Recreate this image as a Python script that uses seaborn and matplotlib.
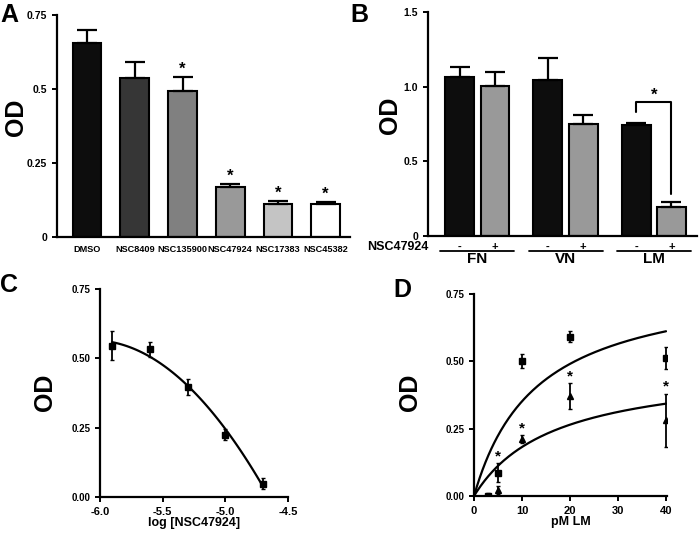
import numpy as np
import pandas as pd
import seaborn as sns
import matplotlib
matplotlib.use("Agg")
import matplotlib.pyplot as plt
import matplotlib.transforms as mtransforms

# panel A - compounds
a_names = ["DMSO", "NSC8409", "NSC135900", "NSC47924", "NSC17383", "NSC45382"]
a_od = [0.656, 0.538, 0.494, 0.168, 0.110, 0.110]
a_err = [0.045, 0.052, 0.045, 0.011, 0.012, 0.007]
a_star = [False, False, True, True, True, True]
a_colors = ["#0d0d0d", "#363636", "#808080", "#999999", "#c4c4c4", "#ffffff"]

# panel B - matrix x treatment
b_matrix = ["FN", "FN", "VN", "VN", "LM", "LM"]
b_treat = ["-", "+", "-", "+", "-", "+"]
b_od = [1.062, 1.007, 1.047, 0.748, 0.741, 0.196]
b_err = [0.070, 0.089, 0.147, 0.062, 0.018, 0.029]

# panel C - dose response
c_logdose = [-5.903, -5.602, -5.301, -5.0, -4.699]
c_od = [0.546, 0.532, 0.397, 0.225, 0.048]
c_err = [0.052, 0.028, 0.030, 0.020, 0.020]

# panel D - laminin titration
d_lm = [3, 5, 10, 20, 40]
d_sq = [0.0, 0.087, 0.502, 0.591, 0.514]
d_sq_err = [0.010, 0.035, 0.027, 0.020, 0.041]
d_tri = [0.0, 0.021, 0.211, 0.371, 0.281]
d_tri_err = [0.008, 0.015, 0.015, 0.048, 0.099]
d_tri_star = [False, True, True, True, True]
# michaelis-menten fit parameters (vmax, km)
d_fit_sq = (0.812, 13.1)
d_fit_tri = (0.486, 16.7)

sns.set_theme(style="ticks")
plt.rcParams["font.family"] = ["Liberation Sans", "DejaVu Sans"]
plt.rcParams["font.weight"] = "bold"
plt.rcParams["axes.labelweight"] = "bold"
plt.rcParams["text.color"] = "black"
plt.rcParams["axes.labelcolor"] = "black"
plt.rcParams["axes.linewidth"] = 1.6
plt.rcParams["xtick.major.width"] = 1.4
plt.rcParams["ytick.major.width"] = 1.4
plt.rcParams["xtick.major.size"] = 3.5
plt.rcParams["ytick.major.size"] = 3.5

fig = plt.figure(figsize=(7, 5.37), dpi=100)

W, H = 700.0, 537.0


def axes_px(left, top, right, bottom):
	return fig.add_axes([left / W, 1 - bottom / H, (right - left) / W, (bottom - top) / H])


def style(ax, lab_x, lab_y):
	sns.despine(ax=ax)
	ax.tick_params(axis="both", colors="black", labelcolor="black")
	for s in ax.spines.values():
		s.set_color("black")
	ax.set_ylabel("OD", fontsize=18, fontweight="bold")
	ax.yaxis.set_label_coords(lab_x, lab_y)


# ---------------- A
axA = axes_px(57, 15, 350, 237)
dfa = pd.DataFrame({"name": a_names, "od": a_od})
sns.barplot(data=dfa, x="name", y="od", hue="name", palette=a_colors, order=a_names,
	edgecolor="black", linewidth=1.5, width=0.6, errorbar=None, legend=False, ax=axA)
xs = np.arange(len(a_names))
axA.errorbar(xs, a_od, yerr=[np.zeros(len(a_od)), a_err], fmt="none", ecolor="black",
	elinewidth=1.6, capsize=7, capthick=1.6)
for i, st in enumerate(a_star):
	if st:
		axA.text(xs[i], a_od[i] + a_err[i] + 0.002, "*", ha="center", va="bottom", fontsize=12)
axA.set_xlim(-0.63, 5.51)
axA.set_ylim(0, 0.75)
axA.set_yticks([0, 0.25, 0.5, 0.75])
axA.set_yticklabels(["0", "0.25", "0.5", "0.75"], fontsize=7.5)
axA.tick_params(axis="x", length=0, labelsize=6.6, pad=6)
axA.set_xlabel("")
style(axA, -0.099, 0.54)

# ---------------- B
axB = axes_px(428, 12, 697, 236)
dfb = pd.DataFrame({"matrix": b_matrix, "treat": b_treat, "od": b_od})
sns.barplot(data=dfb, x="matrix", y="od", hue="treat", hue_order=["-", "+"],
	palette=["#0d0d0d", "#999999"], edgecolor="black", linewidth=1.5, width=0.8, gap=0.18,
	errorbar=None, legend=False, ax=axB)
centers = {}
for p in axB.patches:
	cx = p.get_x() + p.get_width() / 2
	centers[round(p.get_height(), 3)] = cx
bx = [centers[round(v, 3)] for v in b_od]
axB.errorbar(bx, b_od, yerr=[np.zeros(len(b_od)), b_err], fmt="none", ecolor="black",
	elinewidth=1.6, capsize=7, capthick=1.6)
# significance bracket on LM
axB.plot([bx[4], bx[4], bx[5], bx[5]], [0.83, 0.90, 0.90, 0.28], color="black", lw=1.5)
axB.text((bx[4] + bx[5]) / 2, 0.895, "*", ha="center", va="bottom", fontsize=12)
axB.set_xlim(-0.56, 2.49)
axB.set_ylim(0, 1.5)
axB.set_yticks([0, 0.5, 1.0, 1.5])
axB.set_yticklabels(["0", "0.5", "1.0", "1.5"], fontsize=7.5)
axB.tick_params(axis="x", length=0, labelbottom=False)
axB.set_xlabel("")
trB = mtransforms.blended_transform_factory(axB.transData, axB.transAxes)
axB.text(-0.55, -0.05, "NSC47924", transform=trB, ha="right", va="center", fontsize=9, clip_on=False)
for i in range(len(b_od)):
	axB.text(bx[i], -0.05, b_treat[i], transform=trB, ha="center", va="center", fontsize=8, clip_on=False)
for g, lab in enumerate(["FN", "VN", "LM"]):
	axB.plot([g - 0.42, g + 0.42], [-0.068, -0.068], transform=trB, color="black", lw=1.3, clip_on=False)
	axB.text(g, -0.102, lab, transform=trB, ha="center", va="center", fontsize=11, clip_on=False)
style(axB, -0.097, 0.54)

# ---------------- C
axC = axes_px(100, 289, 288, 497)
dfc = pd.DataFrame({"logdose": c_logdose, "od": c_od})
sns.regplot(data=dfc, x="logdose", y="od", order=2, ci=None, scatter=False,
	line_kws={"color": "black", "lw": 1.6}, ax=axC)
axC.errorbar(c_logdose, c_od, yerr=c_err, fmt="s", color="black", ms=5, elinewidth=1.3,
	capsize=1.5, capthick=1.0)
axC.set_xlim(-6.0, -4.5)
axC.set_ylim(0, 0.75)
axC.set_xticks([-6.0, -5.5, -5.0, -4.5])
axC.set_xticklabels(["-6.0", "-5.5", "-5.0", "-4.5"], fontsize=8)
axC.set_yticks([0, 0.25, 0.5, 0.75])
axC.set_yticklabels(["0.00", "0.25", "0.50", "0.75"], fontsize=7)
axC.set_xlabel("log [NSC47924]", fontsize=9, labelpad=0)
style(axC, -0.229, 0.505)

# ---------------- D
axD = axes_px(474, 294, 667, 496)
xx = np.linspace(0, 40, 200)
for vmax, km in (d_fit_sq, d_fit_tri):
	sns.lineplot(x=xx, y=vmax * xx / (km + xx), color="black", lw=1.6, ax=axD)
axD.errorbar(d_lm, d_sq, yerr=d_sq_err, fmt="s", color="black", ms=5, elinewidth=1.3,
	capsize=1.5, capthick=1.0)
axD.errorbar(d_lm, d_tri, yerr=d_tri_err, fmt="^", color="black", ms=4.5, elinewidth=1.3,
	capsize=1.5, capthick=1.0)
for i, st in enumerate(d_tri_star):
	if st:
		top = max(d_tri[i] + d_tri_err[i], d_sq[i] + d_sq_err[i] if d_lm[i] == 5 else 0)
		axD.text(d_lm[i], top + 0.0, "*", ha="center", va="bottom", fontsize=11)
axD.set_xlim(0, 40.2)
axD.set_ylim(0, 0.75)
axD.set_xticks([0, 10, 20, 30, 40])
axD.set_xticklabels(["0", "10", "20", "30", "40"], fontsize=8)
axD.set_yticks([0, 0.25, 0.5, 0.75])
axD.set_yticklabels(["0.00", "0.25", "0.50", "0.75"], fontsize=7)
axD.set_xlabel("pM LM", fontsize=9, labelpad=0)
style(axD, -0.27, 0.515)

# panel letters
for lab, x, y in (("A", 0, 3), ("B", 350, 3), ("C", 0, 273), ("D", 393, 278)):
	fig.text(x / W, 1 - y / H, lab, fontsize=18, fontweight="bold", ha="left", va="top")

fig.savefig("out.png", dpi=100)
